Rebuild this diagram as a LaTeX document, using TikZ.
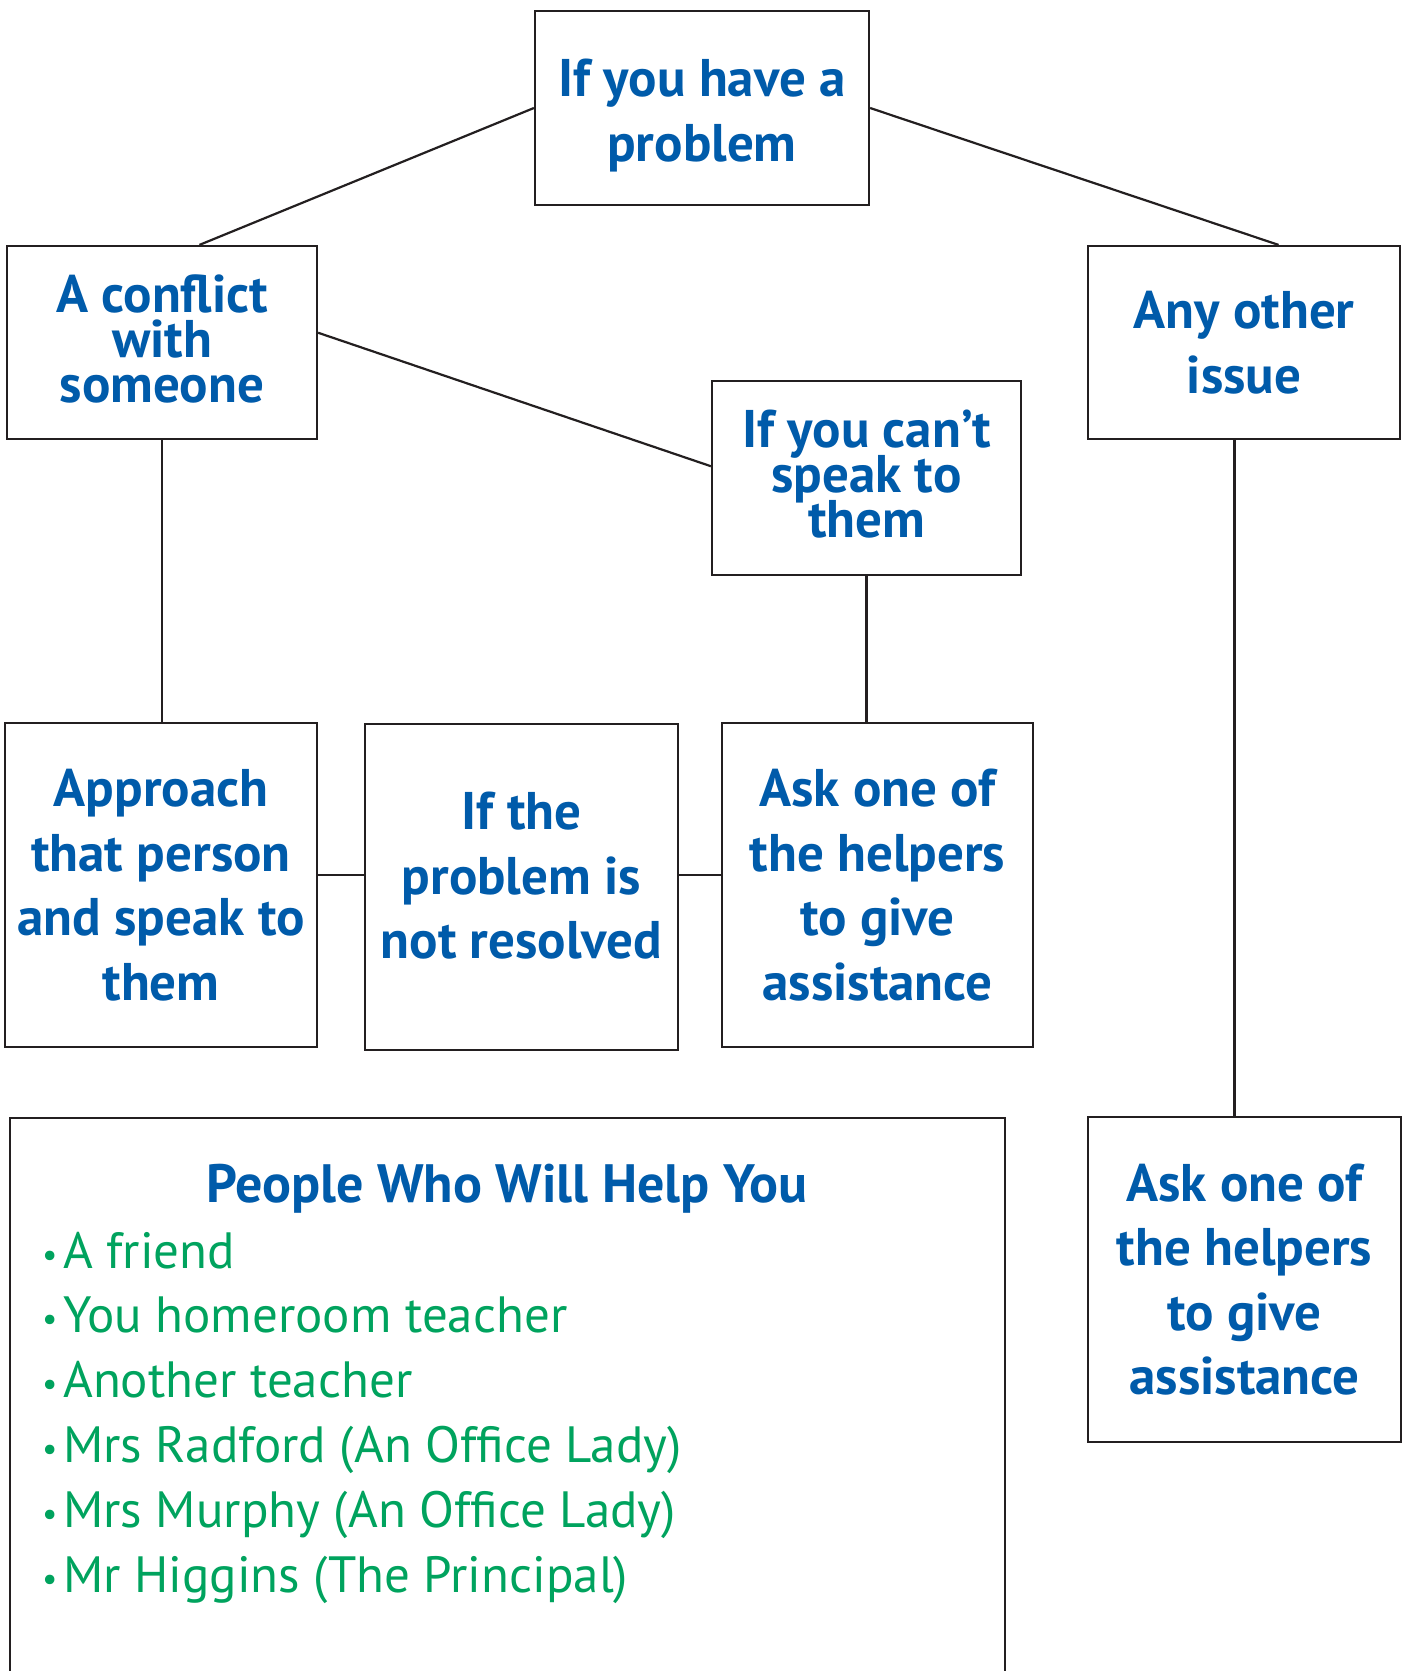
\documentclass[tikz,border=0pt]{standalone}
\usepackage{fontspec}
\setmainfont{PT Sans}
\usetikzlibrary{calc}
\definecolor{tblue}{HTML}{005BAA}
\definecolor{tgreen}{HTML}{00A35E}
\definecolor{tline}{HTML}{231F20}
\newcommand\myblt{\makebox[21pt][l]{\raisebox{2pt}{\fontsize{34}{34}\selectfont\textbullet}}}
\newcommand\mytightfont{\bfseries\fontsize{53}{45}\selectfont\lineskiplimit=-60pt\relax\lineskip=0pt\relax}
\begin{document}
\begin{tikzpicture}[x=1pt,y=-1pt,
  box/.style={draw=tline, line width=2.2pt, rectangle, inner sep=0pt, align=center,
    text=tblue, font=\bfseries\fontsize{53}{64.5}\selectfont},
  boxtext/.style={inner sep=0pt, align=center, text=tblue, font=\bfseries\fontsize{53}{64.5}\selectfont},
  tighttext/.style={inner sep=0pt, align=center, text=tblue, font=\mytightfont},
  link/.style={draw=tline, line width=2.2pt}]
\clip (0,0) rectangle (1406,1671);
\fill[white] (0,0) rectangle (1406,1671);
% boxes
\node[box, minimum width=334, minimum height=194] (top) at (702,108) {};
\node[boxtext] (toptext) at (702,115.5) {If you have a\\problem};
\node[box, minimum width=310, minimum height=193] (conflict) at (162,342.5) {};
\node[tighttext] (conflicttext) at (162,339) {A conflict\\with\\someone};
\node[box, minimum width=312, minimum height=193] (other) at (1244,342.5) {Any other\\issue};
\node[box, minimum width=309, minimum height=194] (cant) at (866.5,478) {};
\node[tighttext] (canttext) at (866.5,474) {If you can't\\speak to\\them};
\node[box, minimum width=312, minimum height=324] (approach) at (161,885) {Approach\\that person\\and speak to\\them};
\node[box, minimum width=313, minimum height=326] (ifthe) at (521.5,887) {};
\node[boxtext] (ifthetext) at (521.5,876) {If the\\problem is\\not resolved};
\node[box, minimum width=311, minimum height=324] (askm) at (877.5,885) {Ask one of\\the helpers\\to give\\assistance};
\node[box, minimum width=313, minimum height=325] (askr) at (1244.5,1279.5) {Ask one of\\the helpers\\to give\\assistance};
% people box
\node[draw=tline, line width=2.2pt, anchor=north west, minimum width=995, minimum height=600, inner sep=0pt] (people) at (9,1117) {};
\node[text=tblue, font=\bfseries\fontsize{54}{60}\selectfont, anchor=base, inner sep=0pt] (title) at (507,1202) {People Who Will Help You};
\node[text=tgreen, font=\fontsize{51}{64.8}\selectfont, anchor=base west, align=left, inner sep=0pt] (list) at (42,1592)
  {\myblt A friend\\
   \myblt You homeroom teacher\\
   \myblt Another teacher\\
   \myblt Mrs Radford (An Office Lady)\\
   \myblt Mrs Murphy (An Office Lady)\\
   \myblt Mr Higgins (The Principal)};
% connectors
\draw[link] ($(top.north west)!0.5!(top.south west)$) -- ($(conflict.north west)!0.62!(conflict.north east)$);
\draw[link] ($(top.north east)!0.5!(top.south east)$) -- ($(other.north west)!0.61!(other.north east)$);
\draw[link] ($(conflict.north east)!0.45!(conflict.south east)$) -- ($(cant.north west)!0.44!(cant.south west)$);
\draw[link] (conflict.south) -- (conflict.south |- approach.north);
\draw[link] (cant.south) -- (cant.south |- askm.north);
\coordinate (os) at ($(other.south west)!0.47!(other.south east)$);
\draw[link] (os) -- (os |- askr.north);
\coordinate (ae) at ($(approach.north east)!0.47!(approach.south east)$);
\draw[link] (ae) -- (ae -| ifthe.west);
\draw[link] (ae -| ifthe.east) -- (ae -| askm.west);
\end{tikzpicture}
\end{document}
